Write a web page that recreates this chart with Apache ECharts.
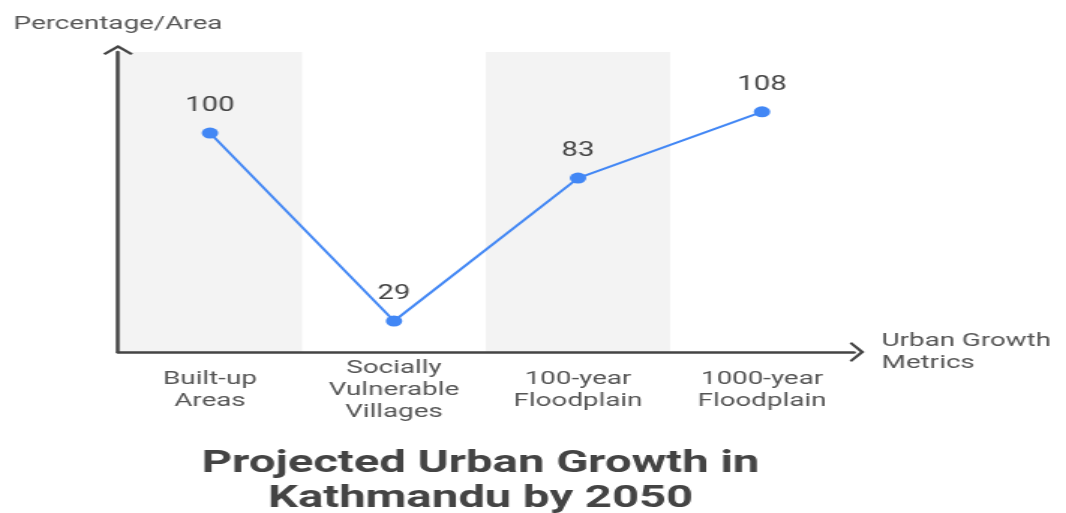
<!DOCTYPE html>
<html>
<head>
<meta charset="utf-8">
<script src="https://cdn.jsdelivr.net/npm/echarts@6/dist/echarts.min.js"></script>
<style>
  html, body { margin: 0; padding: 0; background: #ffffff; overflow: hidden; }
  #wrap { width: 1066px; height: 513px; overflow: hidden; }
  #chart { width: 711px; height: 513px; transform: scaleX(1.4993); transform-origin: 0 0; }
</style>
</head>
<body>
<div id="wrap"><div id="chart"></div></div>
<script>
const categories = ['Built-up\nAreas', 'Socially\nVulnerable\nVillages', '100-year\nFloodplain', '1000-year\nFloodplain'];
const values = [100, 29, 83, 108];
const titleLines = ['Projected Urban Growth in', 'Kathmandu by 2050'];
const yAxisName = 'Percentage/Area';
const xAxisName = 'Urban Growth\nMetrics';

const chevron = 'path://M10,0 L20,8.6 L18.4,10 L10,3.1 L1.6,10 L0,8.6 Z';
const axisColor = '#444444';
const fontFamily = 'Roboto, "Noto Sans", sans-serif';

const chart = echarts.init(document.getElementById('chart'));
chart.setOption({
  animation: false,
  backgroundColor: '#ffffff',
  grid: { left: 78.7, right: 141.4, top: 52, bottom: 161, containLabel: false },
  graphic: [{
    type: 'text',
    x: 320.5,
    y: 447,
    style: {
      text: titleLines.join('\n'),
      textAlign: 'center',
      textVerticalAlign: 'top',
      fontFamily: fontFamily,
      fontSize: 31.5,
      fontWeight: 'bold',
      lineHeight: 35,
      fill: '#444444'
    }
  }],
  xAxis: {
    type: 'category',
    data: categories,
    boundaryGap: true,
    name: xAxisName,
    nameLocation: 'end',
    nameGap: 18.5,
    nameTextStyle: { color: '#555555', fontSize: 18.5, lineHeight: 22, fontFamily: fontFamily, align: 'left', verticalAlign: 'middle' },
    axisLine: { show: true, lineStyle: { color: axisColor, width: 2.5 }, symbol: ['none', chevron], symbolSize: [20, 10], symbolOffset: [0, 2] },
    axisTick: { show: false },
    axisLabel: { color: '#555555', fontSize: 18.5, lineHeight: 22, fontFamily: fontFamily, margin: 38, verticalAlign: 'middle', interval: 0 },
    splitLine: { show: false },
    splitArea: { show: true, areaStyle: { color: ['#f3f3f3', 'rgba(255,255,255,0)'] } }
  },
  yAxis: {
    type: 'value',
    min: 17.3,
    max: 130.6,
    name: yAxisName,
    nameLocation: 'end',
    nameGap: 27.5,
    nameTextStyle: { color: '#555555', fontSize: 18.5, fontFamily: fontFamily, align: 'center', verticalAlign: 'middle' },
    axisLine: { show: true, lineStyle: { color: axisColor, width: 2.5 }, symbol: ['none', chevron], symbolSize: [20, 10], symbolOffset: [0, 2] },
    axisTick: { show: false },
    axisLabel: { show: false },
    splitLine: { show: false }
  },
  series: [{
    type: 'line',
    data: values,
    symbol: 'circle',
    symbolSize: 11,
    showSymbol: true,
    lineStyle: { color: '#4287f5', width: 2 },
    itemStyle: { color: '#4287f5' },
    label: { show: true, position: 'top', distance: 11.5, color: '#444444', fontSize: 19.5, fontFamily: fontFamily }
  }]
});
</script>
</body>
</html>
